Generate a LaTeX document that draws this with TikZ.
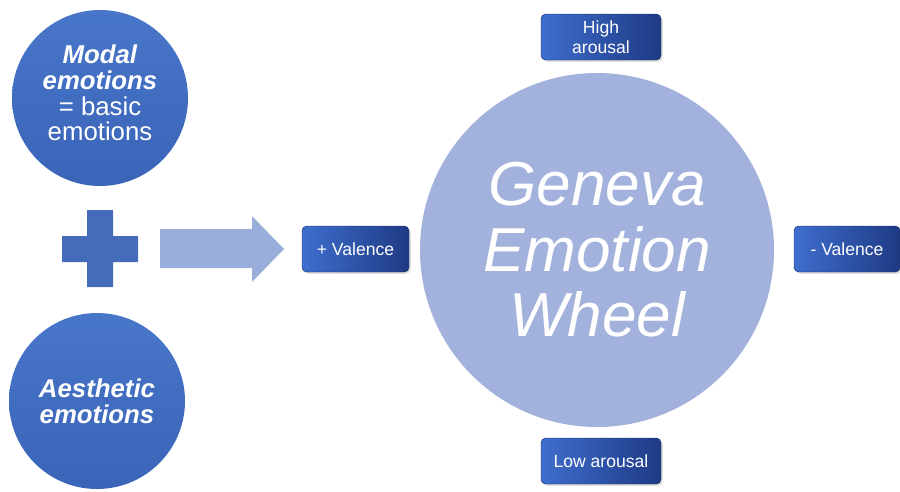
\documentclass[tikz,border=0pt]{standalone}
\usepackage{fontspec}
\setmainfont{Liberation Sans}
\usepackage{tikz}
\usetikzlibrary{shadows}
\definecolor{dk}{RGB}{58,100,184}
\definecolor{dkhi}{RGB}{72,118,200}
\definecolor{lt}{RGB}{163,178,220}
\definecolor{ar}{RGB}{154,174,219}
\definecolor{bxa}{RGB}{62,110,205}
\definecolor{bxb}{RGB}{30,58,132}

\begin{document}
\begin{tikzpicture}[x=0.03cm,y=-0.03cm,
  bigdot/.style={circle,inner sep=0pt,text=white,align=center},
  tag/.style={rounded corners=4pt,draw=bxb!80!black,line width=0.4pt,
    left color=bxa,right color=bxb,text=white,align=center,
    minimum height=46*0.03cm,font=\fontsize{15}{17}\selectfont,
    drop shadow={opacity=0.25,shadow xshift=1.5pt,shadow yshift=-1.5pt}}]
  \useasboundingbox (0,0) rectangle (900,491);

  % left side
  \node[bigdot,minimum size=176*0.03cm,top color=dkhi,bottom color=dk] (modal) at (100,98) {};
  \node[text=white,align=center,font=\fontsize{22}{22}\selectfont] (modaltxt) at (100,93)
    {\textbf{\textit{Modal}}\\\textbf{\textit{emotions}}\\= basic\\emotions};
  \node[bigdot,minimum size=176*0.03cm,top color=dkhi,bottom color=dk,
    font=\fontsize{22}{22}\selectfont] (aesth) at (97,401)
    {\textbf{\textit{Aesthetic}}\\\textbf{\textit{emotions}}};

  \fill[dk!95!white] (87,210) -- (113,210) -- (113,236) -- (138,236) -- (138,262)
    -- (113,262) -- (113,287) -- (87,287) -- (87,262) -- (62,262) -- (62,236)
    -- (87,236) -- cycle;

  \fill[ar] (160,229) -- (252,229) -- (252,216) -- (284,249) -- (252,282)
    -- (252,268) -- (160,268) -- cycle;

  % wheel and the four poles
  \node[bigdot,minimum size=354*0.03cm,fill=lt,
    font=\fontsize{53}{56}\selectfont\itshape] (gew) at (597,250)
    {Geneva\\Emotion\\Wheel};

  \node[tag,minimum width=107*0.03cm] (pos) at (355.5,249) {+ Valence};
  \node[tag,minimum width=106*0.03cm] (neg) at (847,249) {- Valence};
  \node[tag,minimum width=120*0.03cm] (high) at (601,37) {High\\arousal};
  \node[tag,minimum width=120*0.03cm] (low) at (601,461) {Low arousal};
\end{tikzpicture}
\end{document}
